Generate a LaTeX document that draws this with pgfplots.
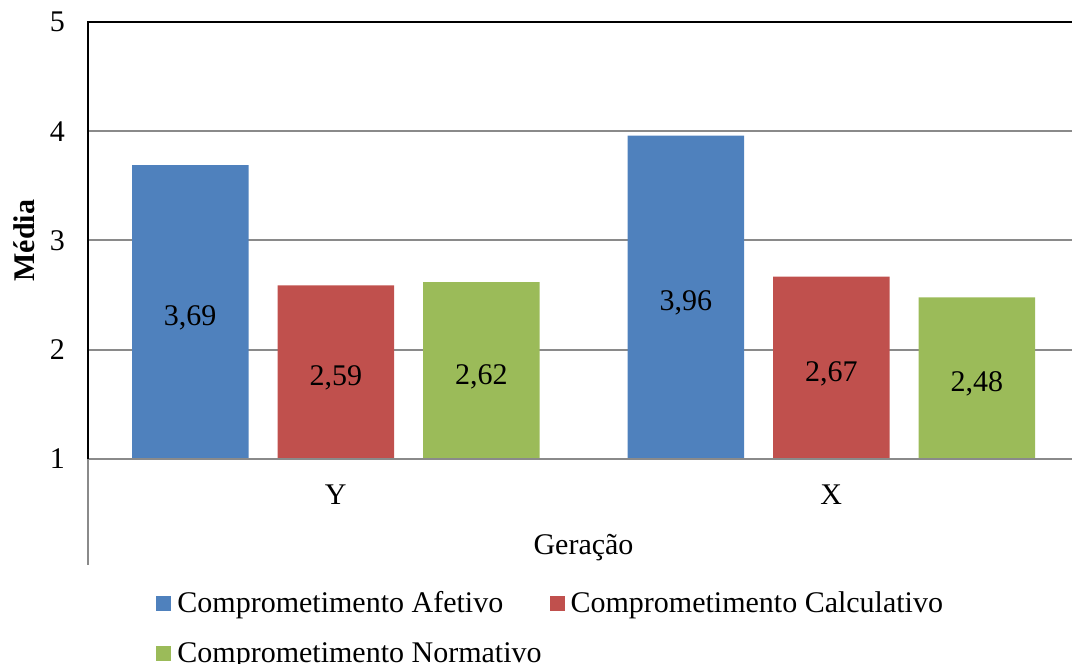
\documentclass[border=0pt]{standalone}
\usepackage{fontspec}
\setmainfont{Liberation Serif}
\usepackage{pgfplots}
\pgfplotsset{compat=1.18}
\definecolor{afet}{HTML}{4F81BD}
\definecolor{calc}{HTML}{C0504D}
\definecolor{norm}{HTML}{9BBB59}
\definecolor{gridgray}{HTML}{8A8A8A}

\begin{document}
\begin{tikzpicture}[font=\fontsize{15pt}{18pt}\selectfont]
\begin{axis}[
  name=ax,
  x=247.75pt, y=54.625pt,
  xmin=-0.5, xmax=1.488,
  ymin=1, ymax=5,
  ytick={1,2,3,4,5},
  xtick={0,1}, xticklabels={Y,X},
  major tick length=0pt,
  axis line style={draw=none},
  ymajorgrids, grid style={gridgray, line width=1pt},
  /pgf/number format/assume math mode=true,
  /pgf/number format/use comma,
  yticklabel style={xshift=-8pt},
  xticklabel style={yshift=-9.5pt},
  xlabel={Geração},
  xlabel style={at={(axis description cs:0.503,0)}, anchor=center, yshift=-44.5pt},
  ylabel={\textbf{Média}},
  ylabel style={at={(axis description cs:-0.065,0.5)}, anchor=center},
  ybar=14.5pt, bar width=58.25pt,
  area legend,
  legend columns=2,
  legend image code/.code={\fill[#1,draw=none] (0pt,-3.75pt) rectangle (7.5pt,3.75pt);},
  legend style={draw=none, fill=none, at={(axis description cs:0.063,-0.283)}, anchor=north west,
    row sep=9.5pt,
    /tikz/every odd column/.append style={column sep=1pt},
    /tikz/every even column/.append style={column sep=2pt}},
  legend cell align=left,
  nodes near coords={\pgfmathprintnumber[fixed,fixed zerofill,precision=2]{\pgfplotspointmeta}},
  visualization depends on={rawy \as \rawy},
  every node near coord/.append style={anchor=center, text=black, yshift={-(\rawy-1)*27.3125-3}},
]
\addplot[fill=afet, draw=none] coordinates {(0,3.69) (1,3.96)};
\addplot[fill=calc, draw=none] coordinates {(0,2.59) (1,2.67)};
\addplot[fill=norm, draw=none] coordinates {(0,2.62) (1,2.48)};
\legend{Comprometimento Afetivo, Comprometimento Calculativo, Comprometimento Normativo}
\end{axis}
% frame: black on the left and top, grey along the category axis
\draw[gridgray, line width=1pt] (ax.south west) -- (ax.south east);
\draw[gridgray, line width=1pt] (ax.south west) -- ++(0,-53pt);
\draw[black, line width=1pt] (ax.south west) -- (ax.north west) -- (ax.north east);
\pgfresetboundingbox
\path[use as bounding box] ([xshift=-44pt,yshift=-102.5pt]ax.south west) rectangle ++(536pt,332pt);
\end{tikzpicture}
\end{document}
